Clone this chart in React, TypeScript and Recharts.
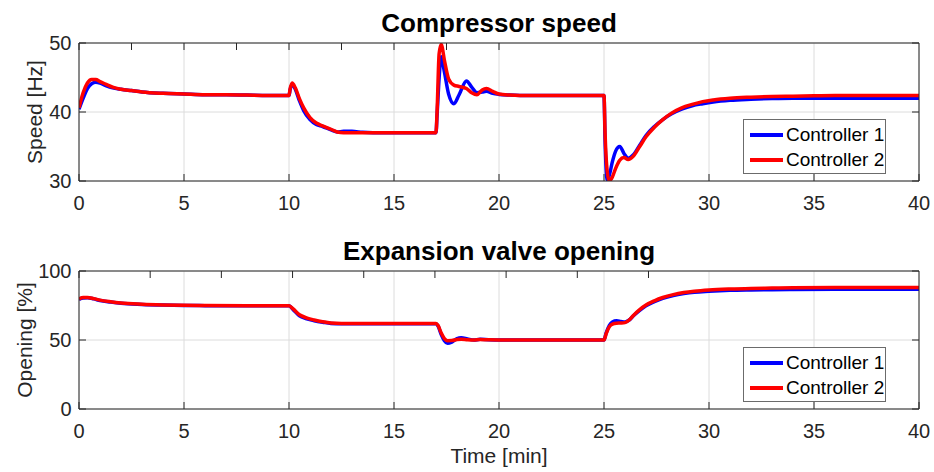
import React from 'react';
import { LineChart, Line, XAxis, YAxis, CartesianGrid, Legend } from 'recharts';

const FONT = '"Liberation Sans", Arial, Helvetica, sans-serif';

// time axis ticks (minutes)
const timeTicks = [0, 5, 10, 15, 20, 25, 30, 35, 40];
const speedTicks = [30, 40, 50];
const openTicks = [0, 50, 100];
const seriesNames = ['Controller 1', 'Controller 2'];
const seriesColors = ['#0000ff', '#ff0000'];

// compressor speed [Hz]
const speedTime = [
  0, 0.2, 0.4, 0.6, 0.8, 1.0, 1.3, 1.6, 2.0, 2.5,
  3, 4, 5, 6, 7, 8, 9, 10.0, 10.05, 10.15,
  10.3, 10.5, 10.7, 11.0, 11.3, 11.6, 12.0, 12.3, 12.6, 13.0,
  13.5, 14, 15, 16, 17.0, 17.05, 17.15, 17.25, 17.4, 17.6,
  17.85, 18.1, 18.45, 18.7, 18.95, 19.2, 19.4, 19.7, 20.0, 20.5,
  21, 22, 23, 24, 25.0, 25.05, 25.15, 25.25, 25.4, 25.55,
  25.75, 25.95, 26.15, 26.4, 26.7, 27.0, 27.4, 27.8, 28.2, 28.7,
  29.2, 29.7, 30.2, 31, 32, 33, 34, 35, 36, 38,
  40,
];
const speedC1 = [
  40.4, 42.0, 43.4, 44.1, 44.3, 44.2, 43.8, 43.5, 43.3, 43.1,
  42.9, 42.7, 42.6, 42.5, 42.5, 42.45, 42.4, 42.4, 43.2, 44.0,
  43.3, 41.6, 40.2, 38.9, 38.2, 37.9, 37.4, 37.1, 37.2, 37.2,
  37.05, 37.0, 37.0, 37.0, 37.0, 39.5, 45.0, 48.0, 45.8, 42.6,
  41.2, 42.5, 44.5, 43.6, 42.8, 42.9, 43.0, 42.7, 42.55, 42.45,
  42.4, 42.4, 42.4, 42.4, 42.4, 36.0, 30.2, 30.8, 32.8, 34.3,
  35.0, 34.0, 33.3, 33.8, 35.2, 36.6, 37.9, 38.9, 39.7, 40.4,
  40.9, 41.2, 41.45, 41.7, 41.85, 41.95, 42.0, 42.0, 42.0, 42.0,
  42.0,
];
const speedC2 = [
  40.6, 42.8, 44.2, 44.7, 44.7, 44.4, 44.0, 43.6, 43.3, 43.1,
  42.9, 42.7, 42.6, 42.5, 42.5, 42.45, 42.4, 42.4, 43.3, 44.2,
  43.5, 41.9, 40.6, 39.2, 38.4, 38.0, 37.5, 37.1, 37.0, 37.0,
  37.0, 37.0, 37.0, 37.0, 37.0, 40.0, 48.5, 49.8, 47.5, 44.8,
  43.9, 43.7, 43.4, 42.8, 42.5, 43.2, 43.4, 43.0, 42.6, 42.45,
  42.4, 42.4, 42.4, 42.4, 42.4, 37.0, 31.5, 30.0, 30.6, 31.8,
  33.0, 33.4, 33.1, 33.6, 35.0, 36.4, 37.8, 38.9, 39.8, 40.6,
  41.1, 41.5, 41.75, 42.0, 42.15, 42.25, 42.3, 42.35, 42.4, 42.4,
  42.4,
];

// expansion valve opening [%]
const openTime = [
  0, 0.2, 0.4, 0.7, 1.0, 1.5, 2, 3, 4, 5,
  6, 8, 10.0, 10.2, 10.5, 10.8, 11.2, 11.6, 12.0, 12.5,
  13, 15, 17.0, 17.1, 17.25, 17.4, 17.55, 17.75, 18.0, 18.2,
  18.5, 18.8, 19.1, 19.5, 20, 22, 25.0, 25.1, 25.25, 25.4,
  25.6, 25.8, 26.0, 26.2, 26.4, 26.7, 27.0, 27.4, 27.8, 28.3,
  28.8, 29.3, 30, 31, 32, 33, 34, 36, 38, 40,
];
const openC1 = [
  79.5, 80.5, 80.6, 79.8, 78.6, 77.5, 76.6, 75.8, 75.3, 75.0,
  74.9, 74.8, 74.8, 72.0, 67.5, 65.5, 64.0, 62.9, 62.0, 61.8,
  61.8, 61.8, 61.8, 60.0, 54.0, 49.5, 47.6, 48.5, 51.0, 51.6,
  50.8, 50.0, 50.5, 50.2, 50.0, 50.0, 50.0, 55.0, 60.5, 63.0,
  63.9, 63.4, 63.0, 64.5, 67.5, 71.5, 74.8, 77.8, 80.2, 82.2,
  83.6, 84.6, 85.3, 86.0, 86.3, 86.5, 86.6, 86.7, 86.7, 86.7,
];
const openC2 = [
  79.8, 80.8, 80.8, 80.0, 78.9, 77.7, 76.8, 75.9, 75.4, 75.1,
  75.0, 74.9, 74.9, 72.5, 68.3, 66.2, 64.5, 63.2, 62.3, 62.0,
  62.0, 62.0, 62.0, 60.5, 55.0, 51.0, 49.5, 49.6, 50.4, 50.6,
  50.2, 50.0, 50.3, 50.1, 50.0, 50.0, 50.0, 54.5, 59.5, 61.5,
  62.2, 62.3, 62.6, 64.5, 67.8, 72.0, 75.3, 78.4, 80.8, 82.9,
  84.4, 85.4, 86.3, 87.0, 87.4, 87.6, 87.8, 88.0, 88.0, 88.0,
];

const speedData = speedTime.map((t, i) => ({ t, c1: speedC1[i], c2: speedC2[i] }));
const openData = openTime.map((t, i) => ({ t, c1: openC1[i], c2: openC2[i] }));

const AXIS = '#262626';
const GRID = '#dcdcdc';
const tickStyle = { fill: AXIS, fontSize: 20, fontFamily: FONT };
const noLabel = () => <g />;

function LegendBox(props: any) {
  const items = props.payload || [];
  return (
    <div
      style={{
        width: 143,
        height: 55,
        boxSizing: 'border-box',
        border: '1px solid #6b6b6b',
        background: '#fff',
        paddingTop: 3,
      }}
    >
      {items.map((it: any) => (
        <div key={it.value} style={{ display: 'flex', alignItems: 'center', height: 24.5 }}>
          <div style={{ marginLeft: 6, width: 33, height: 4, background: it.color }} />
          <span style={{ marginLeft: 3, fontSize: 19, color: '#000', fontFamily: FONT, lineHeight: '24px' }}>
            {it.value}
          </span>
        </div>
      ))}
    </div>
  );
}

// each axis takes 1px of room, so margins are one less than the plot edge
function Panel({ data, height, margin, yDomain, yTicks, legendTop, xMargin }: any) {
  return (
    <LineChart width={934} height={height} data={data} margin={margin}>
      <CartesianGrid stroke={GRID} strokeWidth={1} />
      <XAxis
        dataKey="t"
        type="number"
        domain={[0, 40]}
        ticks={timeTicks}
        interval={0}
        height={1}
        stroke={AXIS}
        tickSize={-7}
        tickMargin={xMargin}
        tick={tickStyle}
        allowDataOverflow
      />
      <XAxis
        xAxisId="top"
        orientation="top"
        type="number"
        domain={[0, 40]}
        ticks={timeTicks}
        interval={0}
        height={1}
        stroke={AXIS}
        tickSize={-7}
        tick={noLabel}
        allowDataOverflow
      />
      <YAxis
        type="number"
        domain={yDomain}
        ticks={yTicks}
        interval={0}
        width={1}
        stroke={AXIS}
        tickSize={-7}
        tickMargin={14.5}
        tick={tickStyle}
        allowDataOverflow
      />
      <YAxis
        yAxisId="right"
        orientation="right"
        type="number"
        domain={yDomain}
        ticks={yTicks}
        interval={0}
        width={1}
        stroke={AXIS}
        tickSize={-7}
        tick={noLabel}
        allowDataOverflow
      />
      <Legend
        layout="vertical"
        align="center"
        verticalAlign="middle"
        wrapperStyle={{ left: 743, top: legendTop, width: 143, height: 55 }}
        content={<LegendBox />}
      />
      <Line
        dataKey="c1"
        name={seriesNames[0]}
        type="monotone"
        stroke={seriesColors[0]}
        strokeWidth={3.5}
        dot={false}
        activeDot={false}
        isAnimationActive={false}
      />
      <Line
        dataKey="c2"
        name={seriesNames[1]}
        type="monotone"
        stroke={seriesColors[1]}
        strokeWidth={3.5}
        dot={false}
        activeDot={false}
        isAnimationActive={false}
      />
    </LineChart>
  );
}

export default function App() {
  return (
    <div
      style={{
        position: 'absolute',
        left: 0,
        top: 0,
        width: 934,
        height: 472,
        background: '#fff',
        fontFamily: FONT,
        overflow: 'hidden',
      }}
    >
      <svg width={934} height={472} style={{ position: 'absolute', left: 0, top: 0 }}>
        <text x={499} y={31.5} textAnchor="middle" fontSize={26} fontWeight="bold" fill="#000" fontFamily={FONT}>
          Compressor speed
        </text>
        <text x={499} y={259.5} textAnchor="middle" fontSize={26} fontWeight="bold" fill="#000" fontFamily={FONT}>
          Expansion valve opening
        </text>
        <text
          x={0}
          y={0}
          transform="translate(41.5,112) rotate(-90)"
          textAnchor="middle"
          fontSize={21}
          fill={AXIS}
          fontFamily={FONT}
        >
          Speed [Hz]
        </text>
        <text
          x={0}
          y={0}
          transform="translate(31.5,340) rotate(-90)"
          textAnchor="middle"
          fontSize={21}
          fill={AXIS}
          fontFamily={FONT}
        >
          Opening [%]
        </text>
        <text x={499} y={463.3} textAnchor="middle" fontSize={21} fill={AXIS} fontFamily={FONT}>
          Time [min]
        </text>
      </svg>
      <div style={{ position: 'absolute', left: 0, top: 0 }}>
        <Panel
          data={speedData}
          height={232}
          margin={{ top: 42, right: 14, bottom: 50, left: 78 }}
          yDomain={[30, 50]}
          yTicks={speedTicks}
          legendTop={119}
          xMargin={21.8}
        />
      </div>
      <div style={{ position: 'absolute', left: 0, top: 232 }}>
        <Panel
          data={openData}
          height={240}
          margin={{ top: 38, right: 14, bottom: 62, left: 78 }}
          yDomain={[0, 100]}
          yTicks={openTicks}
          legendTop={115}
          xMargin={21.3}
        />
      </div>
    </div>
  );
}
